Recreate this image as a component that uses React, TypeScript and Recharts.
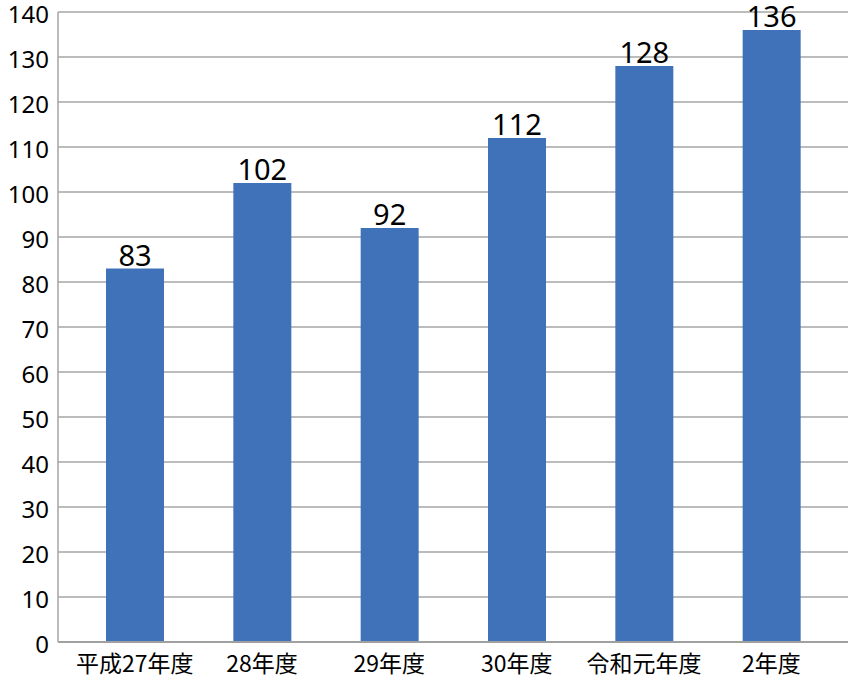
import { BarChart, Bar, XAxis, YAxis, CartesianGrid, LabelList } from 'recharts';

// 年度別の件数
const years = ['平成27年度', '28年度', '29年度', '30年度', '令和元年度', '2年度'];
const counts = [83, 102, 92, 112, 128, 136];
const yTicks = [0, 10, 20, 30, 40, 50, 60, 70, 80, 90, 100, 110, 120, 130, 140];

const data = years.map((year, i) => ({ year, count: counts[i] }));

if (typeof document !== 'undefined') {
  document.body.style.margin = '0';
}

const font = '"Noto Sans CJK JP", "Noto Sans", sans-serif';
const digitFont = '"Noto Sans", "Noto Sans CJK JP", sans-serif';

export default function App() {
  return (
    <div style={{ width: 850, height: 681, background: '#fff', fontFamily: font }}>
      <BarChart
        width={850}
        height={681}
        data={data}
        margin={{ top: 12, right: 2, bottom: 0, left: 0 }}
        barSize={58}
      >
        <CartesianGrid vertical={false} stroke="#A6A6A6" strokeWidth={1.5} />
        <XAxis
          dataKey="year"
          axisLine={{ stroke: '#A0A0A0', strokeWidth: 2 }}
          tickLine={false}
          height={39}
          padding={{ left: 13, right: 13 }}
          tick={{ fontSize: 23, fill: '#000', fontFamily: font }}
          tickMargin={8}
          interval={0}
        />
        <YAxis
          domain={[0, 140]}
          ticks={yTicks}
          interval={0}
          width={58}
          axisLine={{ stroke: '#A6A6A6', strokeWidth: 1.5 }}
          tickLine={false}
          tick={{ fontSize: 24, fill: '#000', fontFamily: digitFont, dy: 2 }}
          tickMargin={3}
        />
        <YAxis
          yAxisId="right"
          orientation="right"
          width={0}
          domain={[0, 140]}
          axisLine={{ stroke: '#A6A6A6', strokeWidth: 1.5 }}
          tick={false}
          tickLine={false}
        />
        <Bar dataKey="count" fill="#4072BA" isAnimationActive={false}>
          <LabelList
            dataKey="count"
            position="top"
            offset={3}
            style={{ fontSize: 29, fill: '#000', fontFamily: digitFont }}
          />
        </Bar>
      </BarChart>
    </div>
  );
}
